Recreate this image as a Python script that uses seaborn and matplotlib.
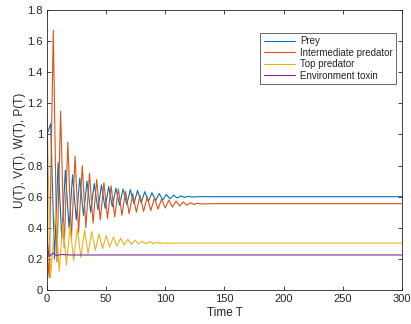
import numpy as np
import pandas as pd
import matplotlib
matplotlib.use('Agg')
import matplotlib.pyplot as plt
import seaborn as sns

# Extrema (time, value)
prey_t = [0, 3.1, 6.3, 9.4, 12.5, 15.5, 18.6, 21.6, 24.7, 27.7, 30.8, 33.8, 36.9,
          39.9, 43.0, 46.0, 49.1, 52.1, 55.2, 58.2, 61.3, 64.3, 67.4, 70.4, 73.5,
          76.5, 79.6, 82.6, 85.7, 88.7, 91.8, 94.8, 97.9, 100.9, 104.0, 107.0, 110.1,
          113.1, 116.2, 119.2, 122.3, 130, 300]
prey_v = [1.0, 1.07, 0.20, 0.82, 0.33, 0.77, 0.40, 0.74, 0.45, 0.72, 0.48, 0.70, 0.50,
          0.685, 0.515, 0.675, 0.525, 0.665, 0.535, 0.655, 0.545, 0.65, 0.55, 0.645, 0.555,
          0.64, 0.56, 0.632, 0.568, 0.626, 0.574, 0.62, 0.58, 0.614, 0.586, 0.609, 0.591,
          0.605, 0.595, 0.602, 0.598, 0.6, 0.6]

inter_t = [0, 1.8, 5.3, 8.4, 11.5, 14.5, 17.6, 20.6, 23.7, 26.7, 29.8, 32.8, 35.9, 38.9,
           42.0, 45.0, 48.1, 51.1, 54.2, 57.2, 60.3, 63.3, 66.4, 69.4, 72.5, 75.5,
           78.6, 81.6, 84.7, 87.7, 90.8, 93.8, 96.9, 99.9, 103.0, 106.0, 109.1, 112.1,
           115.2, 118.2, 121.3, 124.3, 127.4, 130.4, 140, 300]
inter_v = [0.25, 0.08, 1.67, 0.18, 1.15, 0.27, 0.95, 0.33, 0.86, 0.37, 0.80, 0.40, 0.75, 0.43,
           0.71, 0.45, 0.69, 0.46, 0.67, 0.47, 0.65, 0.48, 0.635, 0.49, 0.62, 0.50,
           0.61, 0.505, 0.60, 0.51, 0.592, 0.52, 0.585, 0.527, 0.578, 0.533, 0.572, 0.54,
           0.566, 0.545, 0.561, 0.55, 0.558, 0.553, 0.555, 0.555]

top_t = [0, 3.0, 7.3, 10.3, 13.4, 16.4, 19.5, 22.5, 25.6, 28.6, 31.7, 34.7, 37.8, 40.8,
         43.9, 46.9, 50.0, 53.0, 56.1, 59.1, 62.2, 65.2, 68.3, 71.3, 74.4, 77.4,
         80.5, 83.5, 86.6, 89.6, 92.7, 95.7, 98.8, 101.8, 110, 300]
top_v = [1.13, 0.08, 0.51, 0.12, 0.44, 0.16, 0.41, 0.19, 0.395, 0.21, 0.385, 0.235, 0.375, 0.255,
         0.36, 0.265, 0.35, 0.275, 0.34, 0.283, 0.333, 0.289, 0.326, 0.293, 0.32, 0.296,
         0.314, 0.298, 0.31, 0.299, 0.306, 0.3, 0.303, 0.301, 0.302, 0.302]

toxin_t = [0, 0.6, 1.5, 5, 8, 12, 20, 300]
toxin_v = [1.0, 0.3, 0.215, 0.235, 0.222, 0.228, 0.225, 0.225]

names = ['Prey', 'Intermediate predator', 'Top predator', 'Environment toxin']
colors = ['#0072BD', '#D95319', '#EDB120', '#7E2F8E']

frames = []
for name, t, v in zip(names, [prey_t, inter_t, top_t, toxin_t], [prey_v, inter_v, top_v, toxin_v]):
    frames.append(pd.DataFrame({'t': t, 'v': v, 'series': name}))
df = pd.concat(frames, ignore_index=True)

sns.set_style('ticks')
plt.rcParams['font.family'] = ['Liberation Sans', 'DejaVu Sans']

fig = plt.figure(figsize=(4.11, 3.24), dpi=100)
ax = fig.add_axes([0.1144, 0.105, 0.8636, 0.864])

sns.lineplot(data=df, x='t', y='v', hue='series', palette=dict(zip(names, colors)),
             estimator=None, sort=False, linewidth=0.8, ax=ax)

ax.set_xlim(0, 300)
ax.set_ylim(0, 1.8)
ax.set_xticks(np.arange(0, 301, 50))
ax.set_yticks([0, 0.2, 0.4, 0.6, 0.8, 1, 1.2, 1.4, 1.6, 1.8])
ax.set_yticklabels(['0', '0.2', '0.4', '0.6', '0.8', '1', '1.2', '1.4', '1.6', '1.8'])
ax.tick_params(direction='in', top=True, right=True, labelsize=8, length=3, width=0.6,
               colors='#262626', pad=3)
for s in ax.spines.values():
    s.set_visible(True)
    s.set_linewidth(0.6)
    s.set_color('#262626')

ax.set_xlabel('Time T', fontsize=8.5, color='#262626', labelpad=2)
ax.set_ylabel('U(T), V(T), W(T), P(T)', fontsize=8.5, color='#262626', labelpad=1)

handles, labels = ax.get_legend_handles_labels()
leg = ax.legend(handles, labels, loc='upper right', bbox_to_anchor=(0.983, 0.918),
                fontsize=7, frameon=True, fancybox=False, handlelength=3.2,
                borderpad=0.35, labelspacing=0.15, handletextpad=0.5, borderaxespad=0)
leg.get_frame().set_edgecolor('#262626')
leg.get_frame().set_linewidth(0.6)
for line in leg.get_lines():
    line.set_linewidth(0.8)

fig.savefig('out.png', dpi=100)
